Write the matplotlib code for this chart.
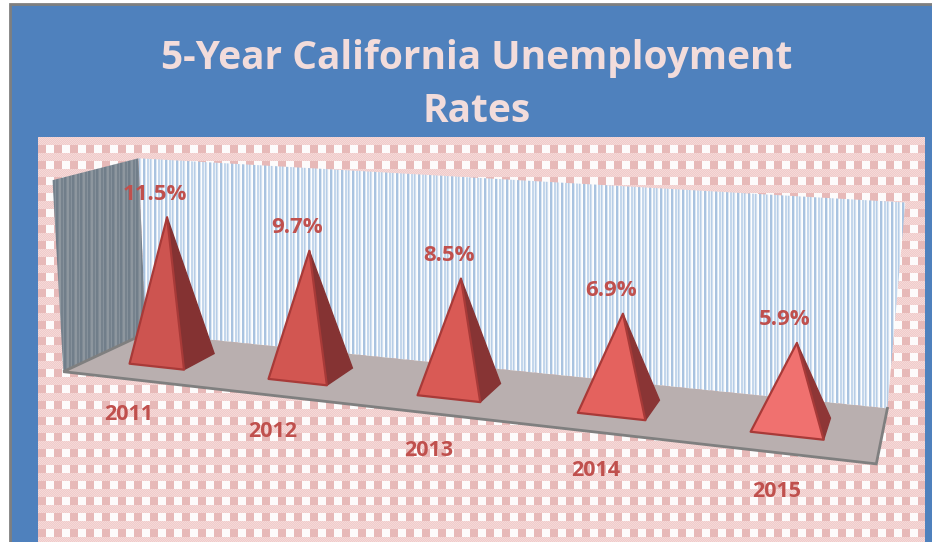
import numpy as np
import matplotlib
matplotlib.use("Agg")
import matplotlib.pyplot as plt
from matplotlib.patches import Polygon, Rectangle

years = ["2011", "2012", "2013", "2014", "2015"]
rates = [11.5, 9.7, 8.5, 6.9, 5.9]
z_max = 15.0

title = "5-Year California Unemployment\nRates"

front_colors = ["#CD5450", "#D25651", "#D95A55", "#E4625E", "#F0716F"]
side_colors = ["#843232", "#853333", "#873434", "#8A3535", "#8E3636"]
edge_colors = ["#A83A38", "#A83A38", "#A83A38", "#A83A38", "#A83A38"]

# box corners on the picture, used to get the 3d projection
# (category pos, depth, value) -> pixel
calib_3d = [(0, 0, 0), (5, 0, 0), (0, 1, 0), (5, 1, 0),
            (0, 0, z_max), (0, 1, z_max), (5, 1, z_max)]
calib_px = [(66, 370), (876, 466), (143, 335), (888, 406),
            (50, 180), (141, 158), (905, 203)]


def fit_camera(pts, px):
    rows = []
    for (x, y, z), (u, v) in zip(pts, px):
        rows.append([x, y, z, 1, 0, 0, 0, 0, -u*x, -u*y, -u*z, -u])
        rows.append([0, 0, 0, 0, x, y, z, 1, -v*x, -v*y, -v*z, -v])
    return np.linalg.svd(np.array(rows))[2][-1].reshape(3, 4)


cam = fit_camera(calib_3d, calib_px)


def proj(x, y, z=0.0):
    p = cam @ np.array([x, y, z, 1.0])
    return p[0] / p[2], p[1] / p[2]


def texture(tile, w, h):
    tile = np.array(tile)
    ny = h // tile.shape[0] + 1
    nx = w // tile.shape[1] + 1
    return np.tile(tile, (ny, nx, 1))[:h, :w]


def rgb(c):
    return matplotlib.colors.to_rgb(c)


fig = plt.figure(figsize=(9.32, 5.42), dpi=100, facecolor="white")
ax = fig.add_axes([0, 0, 1, 1])

# blue panel
ax.add_patch(Rectangle((10, 4), 925, 540, fc="#4F81BD", ec="#7F7F7F", lw=2, zorder=1))

# gingham background, starts with the dithered row
pink, white, light, light2 = rgb("#E7B9B8"), rgb("#FDFBFB"), rgb("#F5D9D8"), rgb("#F0CBCA")
tile = np.zeros((16, 16, 3))
for r in range(0, 8):
    for c in range(16):
        tile[r, c] = light if (r + c) % 2 else light2
tile[8:, :8] = pink
tile[8:, 8:] = white
ax.imshow(texture(tile, 887, 405), extent=(38, 925, 542, 137), aspect="auto",
          interpolation="bilinear", zorder=2)

# back wall and side wall
stripe_back = [rgb(c) for c in ["#A9C3E0", "#A9C3E0", "#DCE8F4", "#FFFFFF", "#C4D7EC", "#C4D7EC",
                                "#EAF1F8", "#B6CDE6", "#D2E0F0", "#F6F9FC", "#FFFFFF"]]
stripe_side = [rgb(c) for c in ["#717E8A", "#717E8A", "#7F8A94", "#8E979F", "#8E979F",
                                "#76828D", "#76828D", "#87929C"]]
back = Polygon([proj(0, 1), proj(5, 1), proj(5, 1, z_max), proj(0, 1, z_max)],
               closed=True, fc="none", ec="none", zorder=3)
side = Polygon([proj(0, 0), proj(0, 1), proj(0, 1, z_max), proj(0, 0, z_max)],
               closed=True, fc="none", ec="none", zorder=3)
ax.add_patch(back)
ax.add_patch(side)
im = ax.imshow(texture(np.array(stripe_back)[None, :, :], 910, 10), extent=(0, 910, 542, 0),
               aspect="auto", interpolation="bilinear", zorder=3)
im.set_clip_path(back)
im = ax.imshow(texture(np.array(stripe_side)[None, :, :], 200, 10), extent=(0, 200, 542, 0),
               aspect="auto", interpolation="bilinear", zorder=3)
im.set_clip_path(side)

# floor
ax.add_patch(Polygon([proj(0, 0), proj(5, 0), proj(5, 1), proj(0, 1)], closed=True,
                     fc="#B9AFAF", ec="none", zorder=4))
fx, fy = zip(proj(0, 1), proj(0, 0), proj(5, 0), proj(5, 1))
ax.plot(fx, fy, color="#7F7F7F", lw=2, zorder=5, solid_joinstyle="miter")

# pyramids
half_w = 0.20
half_d = 0.20
for i, (year, rate) in enumerate(zip(years, rates)):
    cx = i + 0.5
    cy = 0.5
    a = proj(cx - half_w, cy - half_d)
    b = proj(cx + half_w, cy - half_d)
    c = proj(cx + half_w, cy + half_d)
    top = proj(cx, cy, rate)
    ax.add_patch(Polygon([b, c, top], closed=True, fc=side_colors[i],
                         ec=side_colors[i], lw=1, zorder=6))
    ax.add_patch(Polygon([a, b, top], closed=True, fc=front_colors[i],
                         ec=edge_colors[i], lw=1.6, zorder=7, joinstyle="round"))
    ax.text(top[0] - 12, top[1] - 23, f"{rate}%", color="#C0504D", fontsize=16,
            fontweight="bold", family="Open Sans", ha="center", va="center", zorder=8)
    lab = proj(cx, 0)
    ax.text(lab[0] - 3, lab[1] + 35 + i, year, color="#C0504D", fontsize=15.5,
            fontweight="bold", family="Open Sans", ha="center", va="center", zorder=8)

ax.text(477, 85, title, color="#F2DCDB", fontsize=28, fontweight="bold", family="Open Sans",
        ha="center", va="center", linespacing=1.5, zorder=8)

ax.set_xlim(0, 932)
ax.set_ylim(542, 0)
ax.axis("off")

fig.savefig("out.png", dpi=100, facecolor="white")
